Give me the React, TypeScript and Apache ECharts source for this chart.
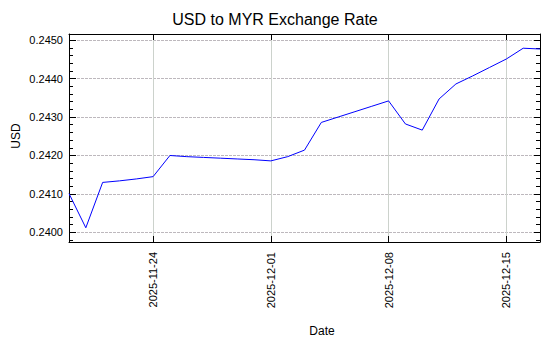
import React, { useEffect, useRef } from "react";
import * as echarts from "echarts";

const dates = [
  "2025-11-19", "2025-11-20", "2025-11-21", "2025-11-22", "2025-11-23", "2025-11-24",
  "2025-11-25", "2025-11-26", "2025-11-27", "2025-11-28", "2025-11-29", "2025-11-30",
  "2025-12-01", "2025-12-02", "2025-12-03", "2025-12-04", "2025-12-05", "2025-12-06",
  "2025-12-07", "2025-12-08", "2025-12-09", "2025-12-10", "2025-12-11", "2025-12-12",
  "2025-12-13", "2025-12-14", "2025-12-15", "2025-12-16", "2025-12-17",
];

const usdValues = [
  0.24101, 0.24012, 0.2413, 0.24134, 0.24139, 0.24145,
  0.242, 0.24197, 0.24195, 0.24193, 0.24191, 0.24189,
  0.24186, 0.24197, 0.24214, 0.24286, 0.243, 0.24314,
  0.24328, 0.24342, 0.24282, 0.24266, 0.24347, 0.24386,
  0.24407, 0.24429, 0.24451, 0.24479, 0.24477,
];

const xTickLabels = ["2025-11-24", "2025-12-01", "2025-12-08", "2025-12-15"];
const yMajorTicks = [0.24, 0.241, 0.242, 0.243, 0.244, 0.245];
const yMinorTicks = [
  0.2398, 0.2402, 0.2404, 0.2406, 0.2408, 0.2412, 0.2414, 0.2416, 0.2418,
  0.2422, 0.2424, 0.2426, 0.2428, 0.2432, 0.2434, 0.2436, 0.2438,
  0.2442, 0.2444, 0.2446, 0.2448,
];

const Y_MIN = 0.23975;
const Y_MAX = 0.24516;
const FONT = "'Liberation Sans', Arial, sans-serif";

export default function App() {
  const ref = useRef<HTMLDivElement>(null);

  useEffect(() => {
    if (!ref.current) return;
    const chart = echarts.init(ref.current, undefined, { renderer: "svg" });
    const isTick = (_i: number, v: string) => xTickLabels.includes(v);
    const yBase = (position: string, ticks: number[], len: number, showLine: boolean, showLabel: boolean) => ({
      type: "value",
      position,
      min: Y_MIN,
      max: Y_MAX,
      axisLine: { show: showLine, onZero: false, lineStyle: { color: "#000", width: 1 } },
      axisTick: { show: true, inside: true, length: len, customValues: ticks, lineStyle: { color: "#000", width: 1 } },
      axisLabel: {
        show: showLabel,
        customValues: yMajorTicks,
        formatter: (v: number) => v.toFixed(4),
        fontSize: 11,
        fontFamily: FONT,
        color: "#000",
        margin: 6,
      },
      splitLine: showLabel
        ? { show: true, lineStyle: { color: "#bdb8bd", width: 1, type: [3, 1] } }
        : { show: false },
      minorTick: { show: false },
    });

    chart.setOption({
      animation: false,
      backgroundColor: "#fff",
      title: {
        text: "USD to MYR Exchange Rate",
        left: "center",
        top: 11,
        padding: 0,
        textStyle: { fontSize: 16, fontWeight: "normal", color: "#000", fontFamily: FONT },
      },
      grid: { left: 69, right: 10, top: 34, bottom: 108, containLabel: false, outerBoundsMode: "none" },
      xAxis: [
        {
          type: "category",
          data: dates,
          position: "bottom",
          boundaryGap: false,
          axisLine: { show: true, onZero: false, lineStyle: { color: "#000", width: 1 } },
          axisTick: { show: true, inside: true, length: 6, interval: isTick, lineStyle: { color: "#000" } },
          axisLabel: {
            show: true,
            interval: isTick,
            rotate: 90,
            fontSize: 11,
            fontFamily: FONT,
            color: "#000",
            margin: 10,
          },
          splitLine: { show: true, interval: isTick, lineStyle: { color: "#ccd2cc", width: 1 } },
        },
        {
          type: "category",
          data: dates,
          position: "top",
          boundaryGap: false,
          axisLine: { show: true, onZero: false, lineStyle: { color: "#000", width: 1 } },
          axisTick: { show: true, inside: true, length: 6, interval: isTick, lineStyle: { color: "#000" } },
          axisLabel: { show: false },
          splitLine: { show: false },
        },
      ],
      yAxis: [
        yBase("left", yMajorTicks, 7, true, true),
        yBase("right", yMajorTicks, 6, true, false),
        yBase("left", yMinorTicks, 4, false, false),
        yBase("right", yMinorTicks, 4, false, false),
      ],
      series: [
        {
          type: "line",
          name: "USD",
          data: usdValues,
          xAxisIndex: 0,
          yAxisIndex: 0,
          showSymbol: false,
          symbol: "none",
          lineStyle: { color: "#0000ff", width: 1 },
        },
      ],
      graphic: [
        {
          type: "text",
          x: 322,
          y: 331,
          style: { text: "Date", font: `12px ${FONT}`, fill: "#000", align: "center", verticalAlign: "middle" },
        },
        {
          type: "text",
          x: 15.5,
          y: 136,
          rotation: Math.PI / 2,
          style: { text: "USD", font: `12px ${FONT}`, fill: "#000", align: "center", verticalAlign: "middle" },
        },
      ],
    });
    return () => chart.dispose();
  }, []);

  return (
    <div
      ref={ref}
      style={{ position: "absolute", left: 0, top: 0, width: 550, height: 350 }}
    />
  );
}
